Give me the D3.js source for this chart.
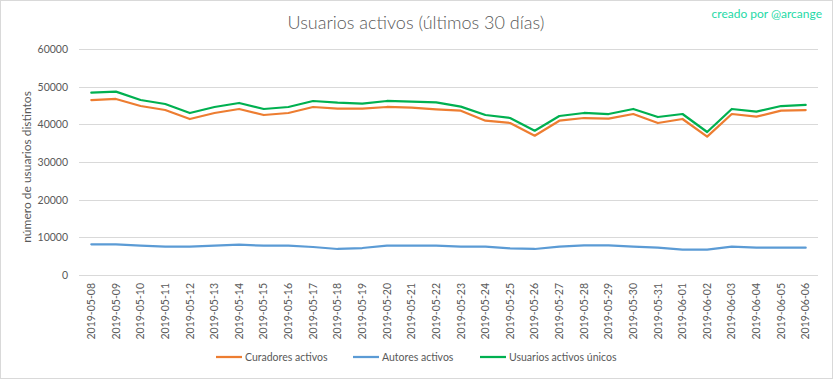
<!DOCTYPE html>
<html><head><meta charset="utf-8">
<script src="https://cdn.jsdelivr.net/npm/d3@7"></script>
<style>body{margin:0;background:#fff}svg{display:block}text{font-family:Lato,"Open Sans",sans-serif}</style>
</head><body><svg id="c" width="833" height="379"></svg>
<script>
const dates = ["2019-05-08","2019-05-09","2019-05-10","2019-05-11","2019-05-12","2019-05-13","2019-05-14","2019-05-15","2019-05-16","2019-05-17","2019-05-18","2019-05-19","2019-05-20","2019-05-21","2019-05-22","2019-05-23","2019-05-24","2019-05-25","2019-05-26","2019-05-27","2019-05-28","2019-05-29","2019-05-30","2019-05-31","2019-06-01","2019-06-02","2019-06-03","2019-06-04","2019-06-05","2019-06-06"];
const curadores = [46460,46726,44867,43805,41416,43009,44071,42478,43009,44602,44159,44159,44602,44425,43982,43628,40973,40354,36991,40973,41681,41504,42743,40354,41416,36726,42743,42035,43628,43805];
const autores = [8142,8142,7788,7522,7522,7788,8053,7788,7788,7434,6903,7168,7788,7788,7788,7522,7522,7080,6903,7522,7876,7876,7522,7257,6726,6726,7522,7257,7257,7257];
const unicos = [48407,48672,46460,45398,43009,44602,45664,44071,44602,46195,45752,45487,46195,46018,45841,44690,42478,41681,38319,42212,43009,42743,44071,41947,42743,37965,44071,43363,44867,45133];
const yTicks = [0,10000,20000,30000,40000,50000,60000];
const seriesNames = ["Curadores activos","Autores activos","Usuarios activos únicos"];
const seriesColors = ["#ed7d31","#5b9bd5","#00b050"];
const seriesData = [curadores, autores, unicos];

const svg = d3.select("#c");
svg.append("rect").attr("x",0.5).attr("y",0.5).attr("width",832).attr("height",378)
  .attr("fill","#fff").attr("stroke","#d9d9d9");

const x = d3.scaleBand().domain(dates).range([79,818]);
const y = d3.scaleLinear().domain([0,60000]).range([275,49]);

// grid
svg.append("g").selectAll("line").data(yTicks).join("line")
  .attr("x1",79).attr("x2",818).attr("y1",d=>Math.round(y(d))+0.5).attr("y2",d=>Math.round(y(d))+0.5)
  .attr("stroke","#d9d9d9").attr("stroke-width",1);

// y axis labels
const yAxis = d3.axisLeft(y).tickValues(yTicks).tickSize(0).tickPadding(11).tickFormat(d3.format("d"));
const gy = svg.append("g").attr("transform","translate(79,0)").call(yAxis);
gy.select(".domain").remove();
gy.selectAll("text").attr("fill","#595959").style("font-size","10.5px").style("font-family","Lato");

// x axis labels
const xAxis = d3.axisBottom(x).tickSize(0).tickPadding(0);
const gx = svg.append("g").attr("transform","translate(0,275)").call(xAxis);
gx.select(".domain").remove();
gx.selectAll("text").attr("fill","#595959").style("font-size","10.5px").style("font-family","Lato")
  .attr("text-anchor","end").attr("transform","rotate(-90)").attr("x",-8).attr("y",0).attr("dy","0.35em");

// lines
const line = d3.line().x((d,i)=>x(dates[i])+x.bandwidth()/2).y(d=>y(d));
seriesData.forEach((s,k)=>{
  svg.append("path").datum(s).attr("d",line).attr("fill","none")
    .attr("stroke",seriesColors[k]).attr("stroke-width",2.25).attr("stroke-linejoin","round").attr("stroke-linecap","round");
});

// title
svg.append("text").attr("x",416).attr("y",29).attr("text-anchor","middle")
  .attr("fill","#595959").style("font-size","18px").style("font-weight","300").text("Usuarios activos (últimos 30 días)");
svg.append("text").attr("x",822).attr("y",18).attr("text-anchor","end")
  .attr("fill","#1ed9a6").style("font-size","12px").text("creado por @arcange");

// y title
svg.append("text").attr("transform","translate(31,167) rotate(-90)").attr("text-anchor","middle")
  .attr("fill","#595959").style("font-size","12px").text("número de usuarios distintos");

// legend
const legX = [216,353,480];
seriesNames.forEach((n,k)=>{
  const g = svg.append("g").attr("transform",`translate(${legX[k]},357)`);
  g.append("line").attr("x1",0).attr("x2",26).attr("y1",0).attr("y2",0).attr("stroke",seriesColors[k]).attr("stroke-width",2.25);
  g.append("text").attr("x",29).attr("y",0).attr("dy","0.35em").attr("fill","#595959").style("font-size","10.5px").text(n);
});
</script></body></html>
